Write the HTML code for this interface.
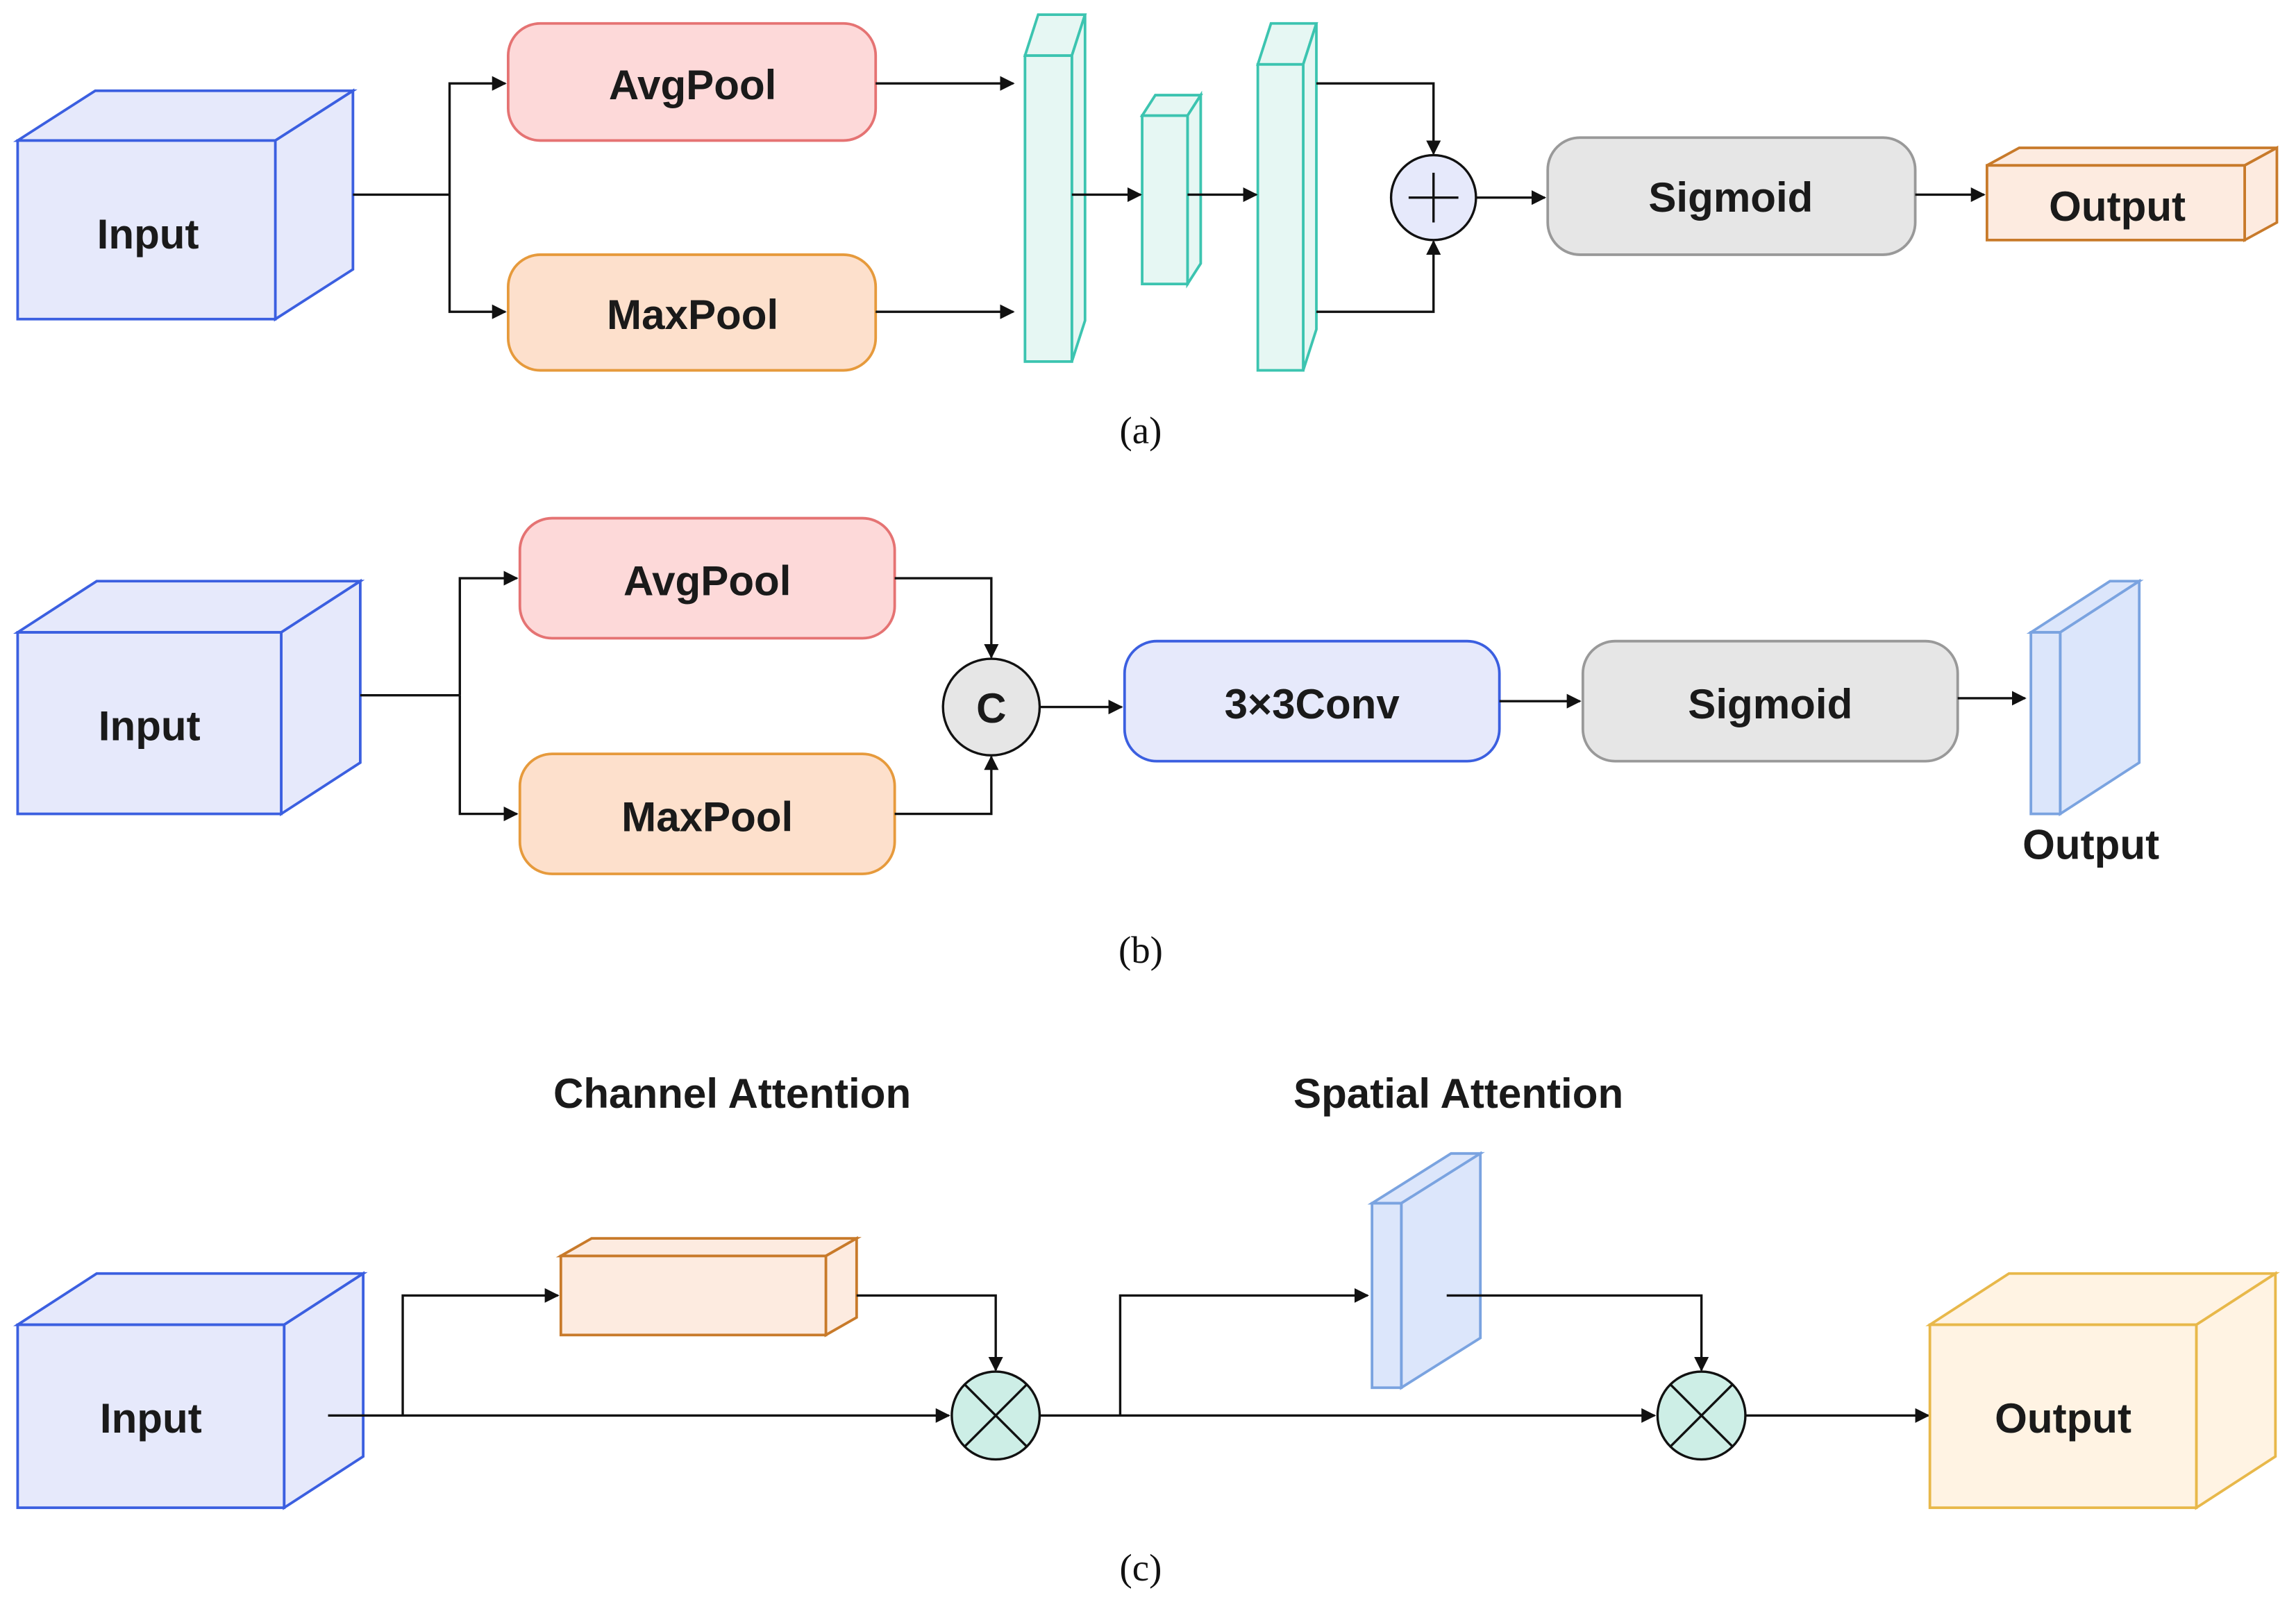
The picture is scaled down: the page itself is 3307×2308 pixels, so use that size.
<!DOCTYPE html>
<html><head><meta charset="utf-8"><style>
html,body{margin:0;padding:0;background:#fff;}
svg{display:block;}
.t{font-family:"Liberation Sans",sans-serif;font-weight:bold;font-size:28.5px;fill:#1a1a1a;text-anchor:middle;dominant-baseline:central;}
.c{font-family:"Liberation Serif",serif;font-size:26px;fill:#111;text-anchor:middle;dominant-baseline:central;}
.l{stroke:#111;stroke-width:1.6;fill:none;}
</style></head><body>
<svg width="3307" height="2308" viewBox="0 0 1568 1094.4" xmlns="http://www.w3.org/2000/svg">
<defs><marker id="a" markerWidth="10" markerHeight="10" refX="9" refY="5" orient="auto" markerUnits="userSpaceOnUse"><path d="M0,0 L10,5 L0,10 Z" fill="#111"/></marker></defs>

<!-- (a) -->
<g fill="#e6e9fb" stroke="#3b5fe0" stroke-width="1.8">
<path d="M12,96 L65,62 L241,62 L188,96 Z"/><path d="M188,96 L241,62 L241,184 L188,218 Z"/><rect x="12" y="96" width="176" height="122"/></g>
<text class="t" x="101" y="160">Input</text>
<path class="l" d="M241,133 L307,133"/><path class="l" d="M307,133 L307,57 L345,57" marker-end="url(#a)"/><path class="l" d="M307,133 L307,213 L345,213" marker-end="url(#a)"/>
<rect x="347" y="16" width="251" height="80" rx="22" fill="#fdd9d9" stroke="#e57373" stroke-width="1.8"/>
<text class="t" x="473" y="58">AvgPool</text>
<rect x="347" y="174" width="251" height="79" rx="22" fill="#fde0cc" stroke="#e69a3c" stroke-width="1.8"/>
<text class="t" x="473" y="215">MaxPool</text>
<path class="l" d="M598,57 L692,57" marker-end="url(#a)"/><path class="l" d="M598,213 L692,213" marker-end="url(#a)"/>
<g fill="#e6f7f3" stroke="#3cc4b0" stroke-width="1.8">
<path d="M700,38 L709,10 L741,10 L732,38 Z"/><path d="M732,38 L741,10 L741,219 L732,247 Z"/><rect x="700" y="38" width="32" height="209"/>
<path d="M780,79 L789,65 L820,65 L811,79 Z"/><path d="M811,79 L820,65 L820,180 L811,194 Z"/><rect x="780" y="79" width="31" height="115"/>
<path d="M859,44 L868,16 L899,16 L890,44 Z"/><path d="M890,44 L899,16 L899,225 L890,253 Z"/><rect x="859" y="44" width="31" height="209"/></g>
<path class="l" d="M732,133 L779,133" marker-end="url(#a)"/><path class="l" d="M811,133 L858,133" marker-end="url(#a)"/>
<path class="l" d="M899,57 L979,57 L979,105" marker-end="url(#a)"/><path class="l" d="M899,213 L979,213 L979,165" marker-end="url(#a)"/>
<circle cx="979" cy="135" r="29" fill="#e6e9fb" stroke="#111" stroke-width="1.6"/>
<path class="l" d="M962,135 L996,135 M979,118 L979,152"/>
<path class="l" d="M1008,135 L1055,135" marker-end="url(#a)"/>
<rect x="1057" y="94" width="251" height="80" rx="22" fill="#e6e6e6" stroke="#999" stroke-width="1.8"/>
<text class="t" x="1182" y="135">Sigmoid</text>
<path class="l" d="M1308,133 L1355,133" marker-end="url(#a)"/>
<g fill="#fdebe0" stroke="#c87a2a" stroke-width="1.8">
<path d="M1357,113 L1379,101 L1555,101 L1533,113 Z"/><path d="M1533,113 L1555,101 L1555,152 L1533,164 Z"/><rect x="1357" y="113" width="176" height="51"/></g>
<text class="t" x="1446" y="141">Output</text>
<text class="c" x="779" y="294">(a)</text>

<!-- (b) -->
<g fill="#e6e9fb" stroke="#3b5fe0" stroke-width="1.8">
<path d="M12,432 L66,397 L246,397 L192,432 Z"/><path d="M192,432 L246,397 L246,521 L192,556 Z"/><rect x="12" y="432" width="180" height="124"/></g>
<text class="t" x="102" y="496">Input</text>
<path class="l" d="M246,475 L314,475"/><path class="l" d="M314,475 L314,395 L353,395" marker-end="url(#a)"/><path class="l" d="M314,475 L314,556 L353,556" marker-end="url(#a)"/>
<rect x="355" y="354" width="256" height="82" rx="22" fill="#fdd9d9" stroke="#e57373" stroke-width="1.8"/>
<text class="t" x="483" y="397">AvgPool</text>
<rect x="355" y="515" width="256" height="82" rx="22" fill="#fde0cc" stroke="#e69a3c" stroke-width="1.8"/>
<text class="t" x="483" y="558">MaxPool</text>
<path class="l" d="M611,395 L677,395 L677,449" marker-end="url(#a)"/><path class="l" d="M611,556 L677,556 L677,517" marker-end="url(#a)"/>
<circle cx="677" cy="483" r="33" fill="#e6e6e6" stroke="#111" stroke-width="1.6"/>
<text class="t" x="677" y="484">C</text>
<path class="l" d="M710,483 L766,483" marker-end="url(#a)"/>
<rect x="768" y="438" width="256" height="82" rx="22" fill="#e6e9fb" stroke="#3b5fe0" stroke-width="1.8"/>
<text class="t" x="896" y="481">3×3Conv</text>
<path class="l" d="M1024,479 L1079,479" marker-end="url(#a)"/>
<rect x="1081" y="438" width="256" height="82" rx="22" fill="#e6e6e6" stroke="#999" stroke-width="1.8"/>
<text class="t" x="1209" y="481">Sigmoid</text>
<path class="l" d="M1337,477 L1383,477" marker-end="url(#a)"/>
<g fill="#dce6fb" stroke="#7aa3e0" stroke-width="1.8">
<path d="M1387,432 L1441,397 L1461,397 L1407,432 Z"/><path d="M1407,432 L1461,397 L1461,521 L1407,556 Z"/><rect x="1387" y="432" width="20" height="124"/></g>
<text class="t" x="1428" y="577">Output</text>
<text class="c" x="779" y="649">(b)</text>

<!-- (c) -->
<text class="t" x="500" y="747">Channel Attention</text>
<text class="t" x="996" y="747">Spatial Attention</text>
<g fill="#e6e9fb" stroke="#3b5fe0" stroke-width="1.8">
<path d="M12,905 L66,870 L248,870 L194,905 Z"/><path d="M194,905 L248,870 L248,995 L194,1030 Z"/><rect x="12" y="905" width="182" height="125"/></g>
<text class="t" x="103" y="969">Input</text>
<path class="l" d="M224,967 L648,967" marker-end="url(#a)"/>
<path class="l" d="M275,967 L275,885 L381,885" marker-end="url(#a)"/>
<g fill="#fdebe0" stroke="#c87a2a" stroke-width="1.8">
<path d="M383,858 L404,846 L585,846 L564,858 Z"/><path d="M564,858 L585,846 L585,900 L564,912 Z"/><rect x="383" y="858" width="181" height="54"/></g>
<path class="l" d="M585,885 L680,885 L680,936" marker-end="url(#a)"/>
<circle cx="680" cy="967" r="30" fill="#cdeee6" stroke="#111" stroke-width="1.6"/>
<path class="l" d="M659,946 L701,988 M701,946 L659,988"/>
<path class="l" d="M710,967 L1130,967" marker-end="url(#a)"/>
<path class="l" d="M765,967 L765,885 L934,885" marker-end="url(#a)"/>
<g fill="#dce6fb" stroke="#7aa3e0" stroke-width="1.8">
<path d="M937,822 L991,788 L1011,788 L957,822 Z"/><path d="M957,822 L1011,788 L1011,914 L957,948 Z"/><rect x="937" y="822" width="20" height="126"/></g>
<path class="l" d="M988,885 L1162,885 L1162,936" marker-end="url(#a)"/>
<circle cx="1162" cy="967" r="30" fill="#cdeee6" stroke="#111" stroke-width="1.6"/>
<path class="l" d="M1141,946 L1183,988 M1183,946 L1141,988"/>
<path class="l" d="M1192,967 L1317,967" marker-end="url(#a)"/>
<g fill="#fff3e3" stroke="#e8b84a" stroke-width="1.8">
<path d="M1318,905 L1372,870 L1554,870 L1500,905 Z"/><path d="M1500,905 L1554,870 L1554,995 L1500,1030 Z"/><rect x="1318" y="905" width="182" height="125"/></g>
<text class="t" x="1409" y="969">Output</text>
<text class="c" x="779" y="1071">(c)</text>
</svg>
</body></html>
